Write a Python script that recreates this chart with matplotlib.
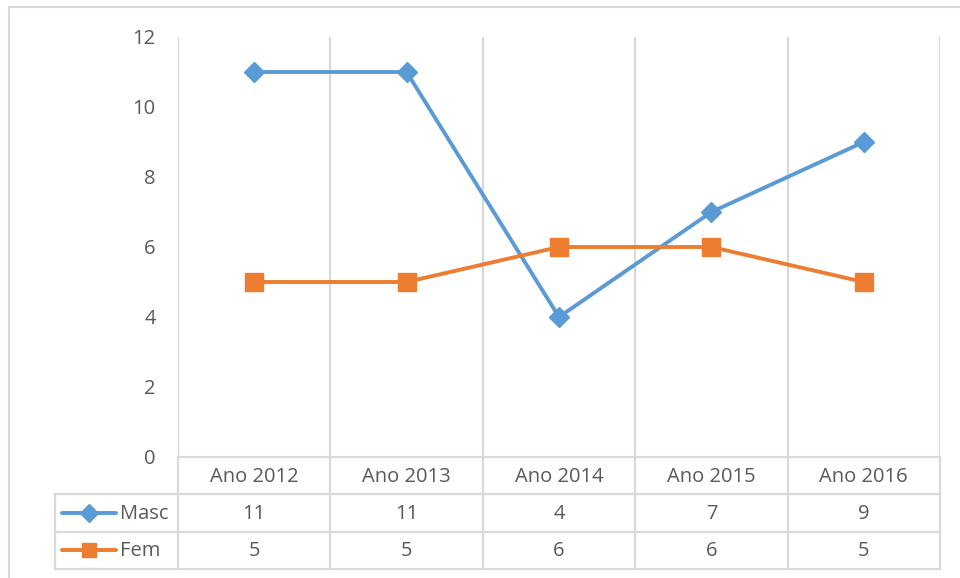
import matplotlib.pyplot as plt
from matplotlib.transforms import blended_transform_factory
from matplotlib.lines import Line2D

categories = ['Ano 2012', 'Ano 2013', 'Ano 2014', 'Ano 2015', 'Ano 2016']
masc = [11, 11, 4, 7, 9]
fem = [5, 5, 6, 6, 5]
series = [('Masc', masc, '#5B9BD5', 'D', 10.5), ('Fem', fem, '#ED7D31', 's', 12.5)]
yticks = [0, 2, 4, 6, 8, 10, 12]

W, H = 960, 578
GRID = '#D9D9D9'
TXT = '#595959'
FS = 14.5
plt.rcParams['font.family'] = ['Open Sans', 'DejaVu Sans']


def fx(px):
    return px / W


def fy(py):
    return 1 - py / H


fig = plt.figure(figsize=(W / 100, H / 100), dpi=100)

# plot area
x0, x1, ytop, ybot = 178, 940, 37, 457
ax = fig.add_axes([fx(x0), fy(ybot), fx(x1) - fx(x0), fy(ytop) - fy(ybot)])
n = len(categories)
ax.set_xlim(-0.5, n - 0.5)
ax.set_ylim(0, 12)
ax.set_yticks(yticks)
ax.set_xticks([])
for s in ax.spines.values():
    s.set_visible(False)
ax.tick_params(axis='y', length=0, pad=16, labelsize=FS, labelcolor=TXT)
for b in range(n + 1):
    ax.axvline(b - 0.5, color=GRID, lw=1.6, zorder=0)

for name, vals, col, mk, ms in series:
    ax.plot(range(n), vals, color=col, lw=2.8, marker=mk, markersize=ms,
            solid_capstyle='round', clip_on=False, zorder=3)

# data table below the plot
tl, tb = 55, 569
tax = fig.add_axes([fx(tl), fy(tb), fx(x1) - fx(tl), fy(ybot) - fy(tb)])
tax.set_axis_off()
tax.set_xlim(0, 1)
tax.set_ylim(0, 3)
tr = blended_transform_factory(ax.transData, tax.transData)
lk = dict(color=GRID, lw=1.6, clip_on=False)

# horizontal rules
tax.plot([0, 1], [0, 0], **lk)
tax.plot([0, 1], [1, 1], **lk)
tax.plot([0, 1], [2, 2], **lk)
tax.plot([-0.5, n - 0.5], [3, 3], transform=tr, **lk)
# vertical rules
tax.plot([0, 0], [0, 2], **lk)
for b in range(n + 1):
    tax.plot([b - 0.5, b - 0.5], [0, 3], transform=tr, **lk)

for i, c in enumerate(categories):
    tax.text(i, 2.47, c, transform=tr, ha='center', va='center',
             fontsize=FS, color=TXT)

for r, (name, vals, col, mk, ms) in enumerate(series):
    yc = 1.5 - r
    for i, v in enumerate(vals):
        tax.text(i, yc - 0.02, str(v), transform=tr, ha='center', va='center',
                 fontsize=FS, color=TXT)
    tax.plot([0.008, 0.069], [yc, yc], color=col, lw=2.8, clip_on=False,
             solid_capstyle='round')
    tax.plot([0.0385], [yc], marker=mk, color=col, markersize=ms * 0.85,
             clip_on=False)
    tax.text(0.073, yc - 0.02, name, ha='left', va='center', fontsize=FS, color=TXT)

# outer chart border
fig.add_artist(Line2D([fx(9), fx(9)], [fy(7), 0], color=GRID, lw=1.5))
fig.add_artist(Line2D([fx(9), 1], [fy(7), fy(7)], color=GRID, lw=1.5))

fig.savefig('out.png', dpi=100)
